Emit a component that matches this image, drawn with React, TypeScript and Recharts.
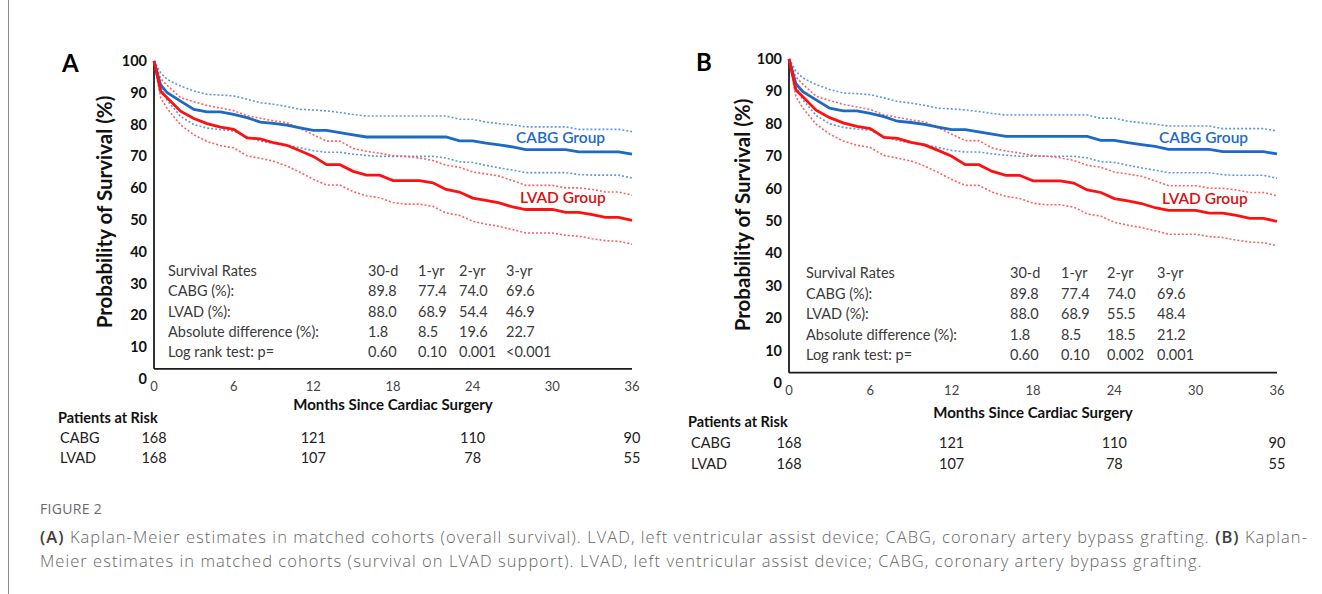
import React from "react";
import { LineChart, Line, XAxis, YAxis, ReferenceLine } from "recharts";

// ---------- data ----------
const months = [0, 0.5, 1, 2, 3, 4, 5, 6, 7, 8, 9, 10, 11, 12, 13, 14, 15, 16, 17, 18, 19, 20, 21, 22, 23, 24, 25, 26, 27, 28, 29, 30, 31, 32, 33, 34, 35, 36];

const cabgSurvival = [100, 92.5, 90.0, 87.4, 84.8, 84.0, 84.0, 83.2, 82.2, 80.8, 80.4, 79.8, 79.0, 78.2, 78.2, 77.5, 76.8, 76.1, 76.1, 76.1, 76.1, 76.1, 76.1, 76.1, 74.9, 74.9, 74.2, 73.6, 73.0, 72.1, 72.1, 72.1, 72.1, 71.4, 71.4, 71.4, 71.4, 70.7];
const cabgUpper = [100, 96.3, 94.2, 92.1, 90.6, 89.5, 89.3, 89.0, 88.0, 86.9, 86.4, 85.7, 84.8, 84.6, 84.3, 83.8, 83.2, 82.7, 82.7, 82.7, 82.7, 82.7, 82.7, 82.7, 81.7, 81.7, 80.8, 80.3, 79.9, 79.3, 79.3, 79.3, 79.3, 78.5, 78.5, 78.5, 78.5, 77.8];
const cabgLower = [100, 92.0, 87.5, 82.6, 80.0, 78.9, 78.4, 78.0, 76.2, 74.8, 74.1, 73.6, 72.7, 71.8, 71.3, 71.3, 70.7, 70.3, 70.0, 70.0, 70.0, 70.0, 70.0, 69.5, 68.3, 68.1, 67.2, 66.4, 65.7, 64.9, 64.9, 64.9, 64.9, 64.3, 64.1, 64.1, 64.1, 63.2];

const lvadSurvival = [100, 90.5, 88.4, 84.2, 81.9, 80.3, 79.2, 78.5, 75.8, 75.5, 74.3, 73.5, 71.8, 70.0, 67.4, 67.4, 65.3, 64.1, 64.1, 62.4, 62.4, 62.4, 61.7, 59.6, 58.8, 56.9, 56.2, 55.4, 54.1, 53.3, 53.3, 53.3, 52.4, 52.4, 51.7, 50.8, 50.8, 49.9];
const lvadUpper = [100, 94.5, 92.3, 88.5, 87.2, 86.0, 85.2, 84.4, 82.8, 82.0, 81.2, 80.6, 78.8, 76.8, 74.8, 74.8, 72.5, 71.6, 71.0, 70.2, 70.0, 69.5, 68.7, 67.2, 66.6, 65.1, 64.5, 63.8, 62.4, 60.9, 60.9, 60.9, 60.1, 60.1, 59.6, 58.8, 58.8, 57.8];
const lvadLower = [100, 88.5, 85.0, 79.9, 76.8, 74.7, 73.4, 72.7, 70.2, 69.4, 68.5, 67.0, 65.0, 62.8, 61.0, 61.0, 58.9, 57.6, 57.0, 55.5, 55.0, 55.0, 54.3, 52.2, 51.5, 49.6, 48.7, 48.0, 47.0, 45.9, 45.9, 45.9, 45.2, 44.9, 44.1, 43.5, 43.3, 42.4];

const xTicks = [0, 6, 12, 18, 24, 30, 36];
const yTicks = [0, 10, 20, 30, 40, 50, 60, 70, 80, 90, 100];

const rateHeaders = ["30-d", "1-yr", "2-yr", "3-yr"];
const rowLabels = ["Survival Rates", "CABG (%):", "LVAD (%):", "Absolute difference (%):", "Log rank test: p="];

const ratesCabgA = ["89.8", "77.4", "74.0", "69.6"];
const ratesLvadA = ["88.0", "68.9", "54.4", "46.9"];
const diffA = ["1.8", "8.5", "19.6", "22.7"];
const pValuesA = ["0.60", "0.10", "0.001", "<0.001"];

const ratesCabgB = ["89.8", "77.4", "74.0", "69.6"];
const ratesLvadB = ["88.0", "68.9", "55.5", "48.4"];
const diffB = ["1.8", "8.5", "18.5", "21.2"];
const pValuesB = ["0.60", "0.10", "0.002", "0.001"];

const riskMonths = [0, 12, 24, 36];
const riskCabg = [168, 121, 110, 90];
const riskLvad = [168, 107, 78, 55];

const captionLine1 = "Kaplan-Meier estimates in matched cohorts (overall survival). LVAD, left ventricular assist device; CABG, coronary artery bypass grafting.";
const captionLine1b = "Kaplan-";
const captionLine2 = "Meier estimates in matched cohorts (survival on LVAD support). LVAD, left ventricular assist device; CABG, coronary artery bypass grafting.";

// ---------- styles ----------
const FONT = "Lato, 'Open Sans', sans-serif";
const CAP_FONT = "'Open Sans', Lato, sans-serif";
const BLUE = "#1B6AC6";
const BLUE_DOT = "#5A9BDB";
const RED = "#FF1010";
const RED_DOT = "#FF6060";
const CH = 480;

const chartData = months.map((m, i) => ({
  m,
  cabg: cabgSurvival[i],
  cabgU: cabgUpper[i],
  cabgL: cabgLower[i],
  lvad: lvadSurvival[i],
  lvadU: lvadUpper[i],
  lvadL: lvadLower[i],
}));

type Geo = {
  left: number;
  width: number;
  plotLeft: number;
  plotRight: number;
  plotTop: number;
  plotBottom: number;
};

const Txt = ({ x, y, children, size = 14, weight = 400, color = "#333", align = "left", font = FONT, style = {} }: any) => {
  const tx = align === "left" ? "0" : align === "center" ? "-50%" : "-100%";
  return (
    <div
      style={{
        position: "absolute",
        left: x,
        top: y,
        transform: `translate(${tx}, -50%)`,
        fontSize: size,
        fontWeight: weight,
        color,
        fontFamily: font,
        whiteSpace: "nowrap",
        lineHeight: 1,
        ...style,
      }}
    >
      {children}
    </div>
  );
};

function Panel({ g }: { g: Geo }) {
  const YW = 40;
  const XH = 20;
  const margin = {
    top: g.plotTop,
    left: g.plotLeft - g.left - YW,
    right: g.left + g.width - g.plotRight,
    bottom: CH - g.plotBottom - XH,
  };
  return (
    <div style={{ position: "absolute", left: g.left, top: 0, width: g.width, height: CH }}>
      <LineChart width={g.width} height={CH} data={chartData} margin={margin}>
        <XAxis
          dataKey="m"
          type="number"
          domain={[0, 36]}
          ticks={xTicks}
          interval={0}
          axisLine={false}
          tickLine={false}
          height={XH}
          tick={(p: any) => (
            <text x={p.x} y={p.y} dy={4} textAnchor="middle" fontFamily={FONT} fontSize={13} fill="#444">
              {p.payload.value}
            </text>
          )}
        />
        <YAxis
          type="number"
          domain={[0, 100]}
          ticks={yTicks}
          interval={0}
          axisLine={false}
          tickLine={false}
          width={YW}
          tick={(p: any) => (
            <text x={p.x + 1} y={p.y} dy={5} textAnchor="end" fontFamily={FONT} fontSize={14.5} fontWeight={700} fill="#111">
              {p.payload.value}
            </text>
          )}
        />
        <ReferenceLine segment={[{ x: 0, y: 3.2 }, { x: 36, y: 3.2 }]} stroke="#1a1a1a" strokeWidth={1.8} />
        <ReferenceLine segment={[{ x: 0, y: 3.2 }, { x: 0, y: 100 }]} stroke="#1a1a1a" strokeWidth={1.8} />
        <Line dataKey="cabgU" type="linear" stroke={BLUE_DOT} strokeWidth={1.6} strokeDasharray="2 2" dot={false} isAnimationActive={false} />
        <Line dataKey="cabgL" type="linear" stroke={BLUE_DOT} strokeWidth={1.6} strokeDasharray="2 2" dot={false} isAnimationActive={false} />
        <Line dataKey="lvadU" type="linear" stroke={RED_DOT} strokeWidth={1.6} strokeDasharray="2 2" dot={false} isAnimationActive={false} />
        <Line dataKey="lvadL" type="linear" stroke={RED_DOT} strokeWidth={1.6} strokeDasharray="2 2" dot={false} isAnimationActive={false} />
        <Line dataKey="cabg" type="linear" stroke={BLUE} strokeWidth={2.8} dot={false} isAnimationActive={false} />
        <Line dataKey="lvad" type="linear" stroke={RED} strokeWidth={2.8} dot={false} isAnimationActive={false} />
      </LineChart>
    </div>
  );
}

type Overlay = {
  g: Geo;
  letter: string;
  letterX: number;
  letterY: number;
  yTitleX: number;
  yTitleY: number;
  xTitleY: number;
  tableX: number;
  tableCols: number[];
  tableY: number;
  tableStep: number;
  cabgLabel: [number, number];
  lvadLabel: [number, number];
  riskTitle: [number, number];
  riskLabelX: number;
  riskRows: number[];
  rates: string[][];
};

function Annotations({ o }: { o: Overlay }) {
  const g = o.g;
  const xPos = (m: number) => g.plotLeft + (m / 36) * (g.plotRight - g.plotLeft);
  const rows = [rateHeaders, ...o.rates];
  return (
    <>
      <Txt x={o.letterX} y={o.letterY} size={24} weight={700} color="#000">{o.letter}</Txt>
      <div
        style={{
          position: "absolute",
          left: o.yTitleX,
          top: o.yTitleY,
          transform: "translate(-50%, -50%) rotate(-90deg)",
          fontFamily: FONT,
          fontWeight: 700,
          fontSize: 20.5,
          color: "#111",
          whiteSpace: "nowrap",
          lineHeight: 1,
        }}
      >
        Probability of Survival (%)
      </div>
      <Txt x={(g.plotLeft + g.plotRight) / 2} y={o.xTitleY} size={15} weight={700} color="#111" align="center">
        Months Since Cardiac Surgery
      </Txt>
      {rowLabels.map((lab, r) => (
        <Txt key={"l" + r} x={o.tableX} y={o.tableY + r * o.tableStep} size={14.5} color="#3a3a3a">{lab}</Txt>
      ))}
      {rows.map((row, r) =>
        row.map((v, c) => (
          <Txt key={"v" + r + "_" + c} x={o.tableCols[c]} y={o.tableY + r * o.tableStep} size={14.5} color="#3a3a3a">{v}</Txt>
        ))
      )}
      <Txt x={o.cabgLabel[0]} y={o.cabgLabel[1]} size={15.5} weight={600} color={BLUE}>CABG Group</Txt>
      <Txt x={o.lvadLabel[0]} y={o.lvadLabel[1]} size={15.5} weight={600} color="#D80F0F">LVAD Group</Txt>
      <Txt x={o.riskTitle[0]} y={o.riskTitle[1]} size={14.5} weight={700} color="#111">Patients at Risk</Txt>
      <Txt x={o.riskLabelX} y={o.riskRows[0]} size={14.5} color="#222">CABG</Txt>
      <Txt x={o.riskLabelX} y={o.riskRows[1]} size={14.5} color="#222">LVAD</Txt>
      {riskMonths.map((m, i) => (
        <Txt key={"rc" + i} x={xPos(m)} y={o.riskRows[0]} size={14.5} color="#222" align="center">{riskCabg[i]}</Txt>
      ))}
      {riskMonths.map((m, i) => (
        <Txt key={"rl" + i} x={xPos(m)} y={o.riskRows[1]} size={14.5} color="#222" align="center">{riskLvad[i]}</Txt>
      ))}
    </>
  );
}

const geoA: Geo = { left: 0, width: 660, plotLeft: 154, plotRight: 632, plotTop: 61, plotBottom: 379 };
const geoB: Geo = { left: 660, width: 662, plotLeft: 789, plotRight: 1277, plotTop: 59, plotBottom: 383 };

const overlayA: Overlay = {
  g: geoA,
  letter: "A",
  letterX: 62,
  letterY: 63,
  yTitleX: 104,
  yTitleY: 212,
  xTitleY: 404,
  tableX: 168,
  tableCols: [368, 418, 459, 506],
  tableY: 271,
  tableStep: 20.3,
  cabgLabel: [516, 138],
  lvadLabel: [520, 198],
  riskTitle: [58, 418],
  riskLabelX: 60,
  riskRows: [438, 458],
  rates: [ratesCabgA, ratesLvadA, diffA, pValuesA],
};

const overlayB: Overlay = {
  g: geoB,
  letter: "B",
  letterX: 696,
  letterY: 62,
  yTitleX: 742,
  yTitleY: 215,
  xTitleY: 412,
  tableX: 806,
  tableCols: [1010, 1061, 1107, 1157],
  tableY: 273,
  tableStep: 20.5,
  cabgLabel: [1159, 138],
  lvadLabel: [1162, 199],
  riskTitle: [688, 422],
  riskLabelX: 691,
  riskRows: [443, 464],
  rates: [ratesCabgB, ratesLvadB, diffB, pValuesB],
};

const capStyle = { letterSpacing: "1.05px" };

export default function App() {
  return (
    <div style={{ position: "absolute", left: 0, top: 0, width: 1322, height: 594, background: "#fff", overflow: "hidden" }}>
      <div style={{ position: "absolute", left: 8, top: 0, width: 1, height: 594, background: "#8a8a8a" }} />
      <Panel g={geoA} />
      <Panel g={geoB} />
      <Annotations o={overlayA} />
      <Annotations o={overlayB} />
      <Txt x={40} y={509} size={14} weight={500} color="#6a6a6a" font={CAP_FONT} style={{ letterSpacing: "0.3px" }}>FIGURE 2</Txt>
      <Txt x={40} y={537} size={16.5} weight={300} color="#666" font={CAP_FONT} style={capStyle}>
        <span style={{ color: "#3d3d3d", fontWeight: 600 }}>(A)</span> {captionLine1}{" "}
        <span style={{ color: "#3d3d3d", fontWeight: 600 }}>(B)</span> {captionLine1b}
      </Txt>
      <Txt x={40} y={561} size={16.5} weight={300} color="#666" font={CAP_FONT} style={capStyle}>{captionLine2}</Txt>
    </div>
  );
}
